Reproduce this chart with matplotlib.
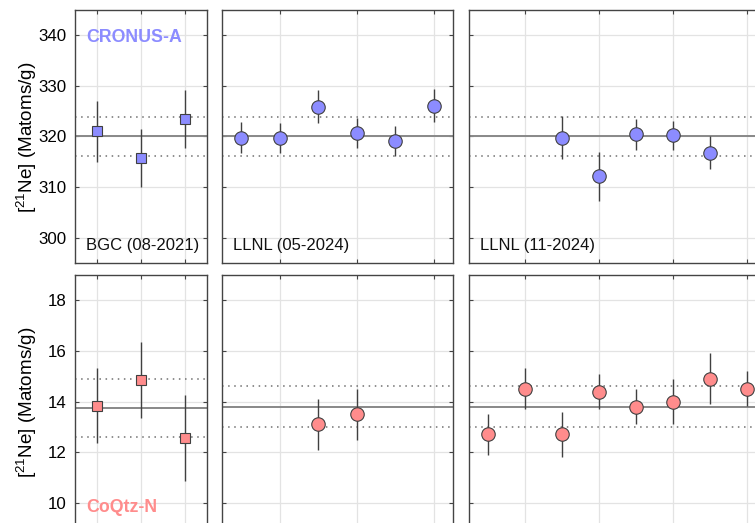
import matplotlib
matplotlib.use('Agg')
import matplotlib.pyplot as plt

plt.rcParams['font.family'] = ['Liberation Sans', 'DejaVu Sans']
plt.rcParams['mathtext.default'] = 'regular'

# CRONUS-A, [21Ne] Matoms/g
cra_bgc_x = [1, 2, 3]
cra_bgc = [321.0, 315.7, 323.4]
cra_bgc_err = [6.0, 5.7, 5.7]
cra_l05_x = [1, 2, 3, 4, 5, 6]
cra_l05 = [319.8, 319.7, 325.9, 320.7, 319.1, 326.1]
cra_l05_err = [3.0, 3.0, 3.3, 3.0, 3.0, 3.2]
cra_l11_x = [3, 4, 5, 6, 7]
cra_l11 = [319.8, 312.1, 320.4, 320.2, 316.8]
cra_l11_err = [4.2, 4.8, 3.1, 2.9, 3.2]
cra_mean = [320.0, 320.0, 320.0]
cra_band = [3.9, 3.9, 3.9]

# CoQtz-N
cqn_bgc_x = [1, 2, 3]
cqn_bgc = [13.84, 14.85, 12.56]
cqn_bgc_err = [1.5, 1.5, 1.7]
cqn_l05_x = [3, 4]
cqn_l05 = [13.10, 13.49]
cqn_l05_err = [1.0, 1.0]
cqn_l11_x = [1, 2, 3, 4, 5, 6, 7, 8]
cqn_l11 = [12.70, 14.51, 12.70, 14.39, 13.80, 14.00, 14.90, 14.51]
cqn_l11_err = [0.8, 0.8, 0.9, 0.7, 0.7, 0.9, 1.0, 0.7]
cqn_mean = [13.74, 13.80, 13.80]
cqn_band = [1.16, 0.80, 0.80]

labs = ['BGC (08-2021)', 'LLNL (05-2024)', 'LLNL (11-2024)']
xlims = [(0.5, 3.5), (0.5, 6.5), (0.5, 8.5)]
xticks = [[1, 2, 3], [2, 4, 6], [2, 4, 6, 8]]

blue = '#8c8cff'
pink = '#ff8c8c'

W, H = 755, 523
fig = plt.figure(figsize=(W / 100, H / 100), dpi=100)

# pixel boxes (left, width) per column, (top) per row
cols = [(75, 132), (222, 231), (469, 296)]
rows = [10, 275]
ph = 253


def make_ax(r, c):
    left, w = cols[c]
    top = rows[r]
    ax = fig.add_axes([left / W, (H - top - ph) / H, w / W, ph / H])
    ax.set_xlim(*xlims[c])
    ax.set_xticks(xticks[c])
    ax.set_xticklabels([])
    ax.grid(True, color='#e3e3e3', lw=0.9)
    ax.set_axisbelow(True)
    ax.tick_params(direction='in', length=3, top=True, right=True,
                   color='#444444', labelsize=12.2, width=0.8, pad=6)
    for s in ax.spines.values():
        s.set_color('#444444')
        s.set_linewidth(1.0)
    if c > 0:
        ax.set_yticklabels([])
    return ax


def draw(ax, x, y, e, mean, band, color, marker, ms):
    ax.axhline(mean, color='#888888', lw=1.4, zorder=1)
    ax.axhline(mean + band, color='#707070', lw=1.1, ls=(0, (1, 3)), zorder=1)
    ax.axhline(mean - band, color='#707070', lw=1.1, ls=(0, (1, 3)), zorder=1)
    ax.errorbar(x, y, yerr=e, fmt='none', ecolor='#404040', elinewidth=1.0,
                capsize=0, zorder=2)
    ax.plot(x, y, ls='none', marker=marker, ms=ms, mfc=color, mec='#404040',
            mew=0.8, zorder=3)


top_data = [(cra_bgc_x, cra_bgc, cra_bgc_err), (cra_l05_x, cra_l05, cra_l05_err),
            (cra_l11_x, cra_l11, cra_l11_err)]
bot_data = [(cqn_bgc_x, cqn_bgc, cqn_bgc_err), (cqn_l05_x, cqn_l05, cqn_l05_err),
            (cqn_l11_x, cqn_l11, cqn_l11_err)]

for c in range(3):
    mk, ms = ('s', 7.7) if c == 0 else ('o', 9.7)

    ax = make_ax(0, c)
    ax.set_ylim(295, 345)
    ax.set_yticks([300, 310, 320, 330, 340])
    x, y, e = top_data[c]
    draw(ax, x, y, e, cra_mean[c], cra_band[c], blue, mk, ms)
    dx = 11 / cols[c][1]
    ax.text(dx, 0.071, labs[c], transform=ax.transAxes, fontsize=12,
            va='center', ha='left', color='#111111')
    if c == 0:
        ax.text(dx, 0.893, 'CRONUS-A', transform=ax.transAxes, fontsize=12.8,
                fontweight='bold', color=blue, va='center', ha='left')

    ax = make_ax(1, c)
    ax.set_ylim(9, 19)
    ax.set_yticks([10, 12, 14, 16, 18])
    x, y, e = bot_data[c]
    draw(ax, x, y, e, cqn_mean[c], cqn_band[c], pink, mk, ms)
    if c == 0:
        ax.text(dx, 0.083, 'CoQtz-N', transform=ax.transAxes, fontsize=12.8,
                fontweight='bold', color=pink, va='center', ha='left')

ylab = '[$^{21}$Ne] (Matoms/g)'
fig.text(27 / W, 1 - 137 / H, ylab, rotation=90, ha='center', va='center', fontsize=13.6)
fig.text(27 / W, 1 - 402 / H, ylab, rotation=90, ha='center', va='center', fontsize=13.6)

fig.savefig('out.png', dpi=100)
